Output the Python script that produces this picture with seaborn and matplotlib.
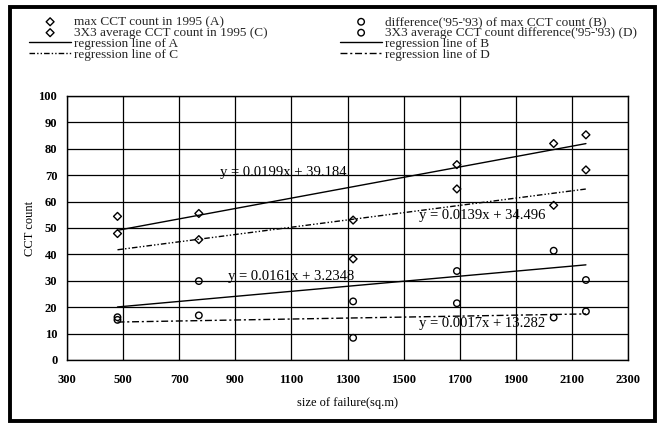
import matplotlib
matplotlib.use("Agg")
import matplotlib.pyplot as plt
import seaborn as sns
import pandas as pd
import numpy as np
from matplotlib.patches import Rectangle

# ---- data ----
size_of_failure = [480, 770, 1320, 1690, 2035, 2150]
max_cct_1995_A = [54.4, 55.5, 53.0, 74.0, 82.0, 85.3]
diff_max_cct_B = [16.2, 29.9, 22.2, 33.7, 41.4, 30.3]
avg3x3_cct_1995_C = [47.9, 45.6, 38.3, 64.8, 58.6, 72.0]
avg3x3_diff_D = [15.2, 16.9, 8.4, 21.5, 16.1, 18.4]

label_A = "max CCT count in 1995 (A)"
label_B = "difference('95-'93) of max CCT count (B)"
label_C = "3X3 average CCT count in 1995 (C)"
label_D = "3X3 average CCT count difference('95-'93) (D)"
label_rA = "regression line of A"
label_rB = "regression line of B"
label_rC = "regression line of C"
label_rD = "regression line of D"

eq_texts = ["y = 0.0199x + 39.184", "y = 0.0139x + 34.496",
            "y = 0.0161x + 3.2348", "y = 0.0017x + 13.282"]
eq_pos_x = [1070, 1781, 1099, 1781]
eq_pos_y = [71, 54.8, 31.6, 13.8]

x_ticks = list(range(300, 2301, 200))
y_ticks = list(range(0, 101, 10))

df = pd.DataFrame({"x": size_of_failure, "A": max_cct_1995_A, "B": diff_max_cct_B,
                   "C": avg3x3_cct_1995_C, "D": avg3x3_diff_D})

sns.set_theme(style="white")
serif = ["Liberation Serif", "DejaVu Serif"]
plt.rcParams["font.family"] = serif

W, H = 662, 430
fig = plt.figure(figsize=(W / 100, H / 100), dpi=100)
fig.patch.set_facecolor("white")
ax = fig.add_axes([67 / W, 1 - 360 / H, (628 - 67) / W, (360 - 96) / H])
ax.set_facecolor("white")

mk = dict(facecolor="none", edgecolor="black", linewidth=1.0, zorder=5)
sns.scatterplot(data=df, x="x", y="A", marker="D", s=16, ax=ax, label=label_A, **mk)
sns.scatterplot(data=df, x="x", y="C", marker="D", s=16, ax=ax, label=label_C, **mk)
sns.scatterplot(data=df, x="x", y="B", marker="o", s=22, ax=ax, label=label_B, **mk)
sns.scatterplot(data=df, x="x", y="D", marker="o", s=22, ax=ax, label=label_D, **mk)

styles = {
    "A": ("-", label_rA),
    "B": ("-", label_rB),
    "C": ((0, (4, 1.5, 1, 1.5, 1, 1.5)), label_rC),
    "D": ((0, (5, 2, 1.5, 2)), label_rD),
}
line_handles = {}
for key, (ls, lab) in styles.items():
    sns.regplot(data=df, x="x", y=key, scatter=False, ci=None, truncate=True, ax=ax,
                line_kws=dict(color="black", linewidth=1.0, linestyle=ls))
    ln = ax.lines[-1]
    ln.set_label(lab)
    line_handles[lab] = ln

ax.set_xlim(300, 2300)
ax.set_ylim(0, 100)
ax.set_xticks(x_ticks)
ax.set_yticks(y_ticks)
ax.grid(True, color="black", linewidth=0.9)
ax.set_axisbelow(True)
for sp in ax.spines.values():
    sp.set_color("black")
    sp.set_linewidth(1.0)
ax.tick_params(axis="both", length=0, labelsize=9, labelcolor="black")
ax.tick_params(axis="x", pad=10)
ax.tick_params(axis="y", pad=7)
for t in ax.get_xticklabels() + ax.get_yticklabels():
    t.set_fontweight("bold")
ax.set_xlabel("size of failure(sq.m)", fontsize=9, color="black", labelpad=8)
ax.set_ylabel("CCT count", fontsize=9, color="black", labelpad=2)

for t, xx, yy in zip(eq_texts, eq_pos_x, eq_pos_y):
    ax.text(xx, yy, t, ha="center", va="center", fontsize=10.5, color="black", zorder=6)

handles, labels = ax.get_legend_handles_labels()
hmap = dict(zip(labels, handles))
hmap.update(line_handles)
if ax.get_legend() is not None:
    ax.get_legend().remove()

common = dict(frameon=False, fontsize=9.5, handlelength=3.2, handletextpad=0.2,
              labelspacing=-0.1, borderpad=0, borderaxespad=0, loc="upper left")
fig.legend([hmap[l] for l in [label_A, label_C, label_rA, label_rC]],
           [label_A, label_C, label_rA, label_rC],
           bbox_to_anchor=(29 / W, 1 - 16 / H), **common)
fig.legend([hmap[l] for l in [label_B, label_D, label_rB, label_rD]],
           [label_B, label_D, label_rB, label_rD],
           bbox_to_anchor=(340 / W, 1 - 16 / H), **common)

fig.patches.append(Rectangle((10 / W, 1 - 421 / H), (655 - 10) / W, (421 - 7) / H,
                             transform=fig.transFigure, fill=False, edgecolor="black",
                             linewidth=2.8))

fig.savefig("out.png", dpi=100, facecolor="white")
